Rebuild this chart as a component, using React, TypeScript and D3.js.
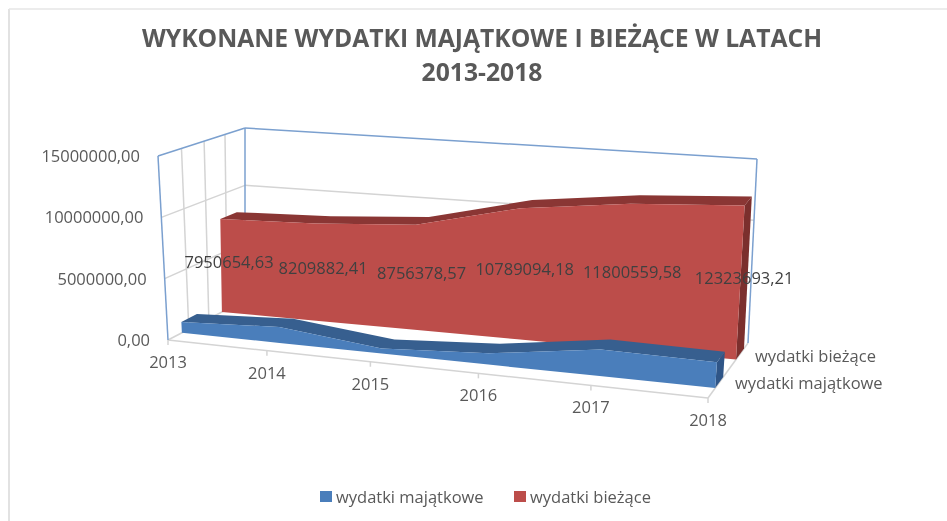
import React from "react";
import * as d3 from "d3";

const years = ["2013", "2014", "2015", "2016", "2017", "2018"];
const seriesNames = ["wydatki majątkowe", "wydatki bieżące"];
const majatkowe = [900000, 1300000, 400000, 900000, 2100000, 2000000];
const biezace = [7950654.63, 8209882.41, 8756378.57, 10789094.18, 11800559.58, 12323693.21];
const labels = ["7950654,63", "8209882,41", "8756378,57", "10789094,18", "11800559,58", "12323693,21"];
const valueTicks = [0, 5000000, 10000000, 15000000];
const valueTickLabels = ["0,00", "5000000,00", "10000000,00", "15000000,00"];

type P = [number, number];
// corners of the 3D box
const FLB: P = [168, 340], FRB: P = [708, 398], FLT: P = [158, 156], FRT: P = [722, 203];
const BLB: P = [245, 300], BRB: P = [748, 343], BLT: P = [245, 128], BRT: P = [757, 159];

const lerp = (a: P, b: P, t: number): P => [a[0] + (b[0] - a[0]) * t, a[1] + (b[1] - a[1]) * t];
const warp = (u: number) => u * (0.895 + 0.105 * u);
const project = (u: number, v: number, w: number): P => {
  const t = warp(u);
  const bottom = lerp(lerp(FLB, FRB, t), lerp(BLB, BRB, t), w);
  const top = lerp(lerp(FLT, FRT, t), lerp(BLT, BRT, t), w);
  return lerp(bottom, top, v);
};

const uScale = d3.scalePoint<string>().domain(years).range([0, 1]);
const vScale = d3.scaleLinear().domain([0, 15000000]).range([0, 1]);
const path = d3.line<P>().x((d) => d[0]).y((d) => d[1]);
const closed = (pts: P[]) => path(pts) + "Z";

const BLUE = ["#4a7ebb", "#375f8f", "#2f5587"];
const RED = ["#bc4d4a", "#8a3634", "#7b2f2d"];
const FONT = "'Open Sans', sans-serif";
const GRID = "#d4d4d4";
const FRAME = "#7ba0cf";
const TXT = "#595959";
const FS = 16.5;

function Area({ values, w0, w1, colors }: { values: number[]; w0: number; w1: number; colors: string[] }) {
  const topAt = (w: number) => values.map((d, i) => project(uScale(years[i])!, vScale(d), w));
  const baseAt = (w: number) => values.map((_, i) => project(uScale(years[i])!, 0, w));
  const last = values.length - 1;
  const front = [...topAt(w0), ...baseAt(w0).reverse()];
  const top = [...topAt(w0), ...topAt(w1).reverse()];
  const side = [topAt(w0)[last], topAt(w1)[last], baseAt(w1)[last], baseAt(w0)[last]];
  return (
    <g>
      <path d={closed(side)} fill={colors[2]} />
      <path d={closed(top)} fill={colors[1]} />
      <path d={closed(front)} fill={colors[0]} />
    </g>
  );
}

const Seg = ({ a, b, stroke, width = 1.5 }: { a: P; b: P; stroke: string; width?: number }) => (
  <line x1={a[0]} y1={a[1]} x2={b[0]} y2={b[1]} stroke={stroke} strokeWidth={width} />
);

export default function App() {
  const depthGrid = [0.27, 0.53, 0.77];
  return (
    <svg width={947} height={521} style={{ position: "absolute", left: 0, top: 0, background: "#fff", filter: "blur(0.6px)" }} fontFamily={FONT}>
      <line x1={9} y1={9} x2={9} y2={521} stroke="#d9d9d9" strokeWidth={1.5} />
      <line x1={9} y1={9} x2={947} y2={9} stroke="#e6e6e6" strokeWidth={1.5} />
      <text x={482} y={47} textAnchor="middle" fontSize={24.7} fontWeight={700} fill={TXT}>
        WYKONANE WYDATKI MAJĄTKOWE I BIEŻĄCE W LATACH
      </text>
      <text x={482} y={81} textAnchor="middle" fontSize={24.7} fontWeight={700} fill={TXT}>
        2013-2018
      </text>

      {/* walls */}
      {valueTicks.slice(1, 3).map((t) => (
        <g key={t}>
          <Seg a={project(0, vScale(t), 0)} b={project(0, vScale(t), 1)} stroke={GRID} />
          <Seg a={project(0, vScale(t), 1)} b={project(1, vScale(t), 1)} stroke={GRID} />
        </g>
      ))}
      {depthGrid.map((w) => (
        <Seg key={w} a={project(0, 0, w)} b={project(0, 1, w)} stroke={GRID} />
      ))}
      <Seg a={project(0, 0, 0)} b={project(1, 0, 0)} stroke={GRID} />
      <Seg a={project(0, 0, 0)} b={project(0, 0, 1)} stroke={GRID} />
      <Seg a={project(1, 0, 0)} b={project(1, 0, 1)} stroke={GRID} />
      {years.map((y) => {
        const p = project(uScale(y)!, 0, 0);
        return <Seg key={y} a={p} b={[p[0], p[1] + 5]} stroke={GRID} />;
      })}
      <Seg a={project(0, 0, 0)} b={project(0, 1, 0)} stroke={FRAME} />
      <Seg a={project(0, 1, 0)} b={project(0, 1, 1)} stroke={FRAME} />
      <Seg a={project(0, 1, 1)} b={project(1, 1, 1)} stroke={FRAME} />
      <Seg a={project(0, 0, 1)} b={project(0, 1, 1)} stroke={FRAME} />
      <Seg a={project(1, 0, 1)} b={project(1, 1, 1)} stroke={FRAME} />

      <Area values={biezace} w0={0.7} w1={0.9} colors={RED} />
      <Area values={majatkowe} w0={0.18} w1={0.38} colors={BLUE} />

      {biezace.map((d, i) => {
        const p = project(uScale(years[i])!, vScale(d) / 2, 0.8);
        return (
          <text key={i} x={p[0]} y={p[1] + 6} textAnchor="middle" fontSize={FS} fill="#404040">
            {labels[i]}
          </text>
        );
      })}

      {valueTicks.map((t, i) => {
        const p = project(0, vScale(t), 0);
        return (
          <text key={t} x={p[0] - 18} y={p[1] + 6} textAnchor="end" fontSize={FS} fill={TXT}>
            {valueTickLabels[i]}
          </text>
        );
      })}
      {years.map((y) => {
        const p = project(uScale(y)!, 0, 0);
        return (
          <text key={y} x={p[0]} y={p[1] + 28} textAnchor="middle" fontSize={FS} fill={TXT}>
            {y}
          </text>
        );
      })}
      <text x={755} y={362} fontSize={FS} fill={TXT}>{seriesNames[1]}</text>
      <text x={735} y={389} fontSize={FS} fill={TXT}>{seriesNames[0]}</text>

      <rect x={320} y={491} width={12} height={11} fill={BLUE[0]} />
      <text x={336} y={503} fontSize={FS} fill={TXT}>{seriesNames[0]}</text>
      <rect x={514} y={491} width={12} height={11} fill={RED[0]} />
      <text x={530} y={503} fontSize={FS} fill={TXT}>{seriesNames[1]}</text>
    </svg>
  );
}
